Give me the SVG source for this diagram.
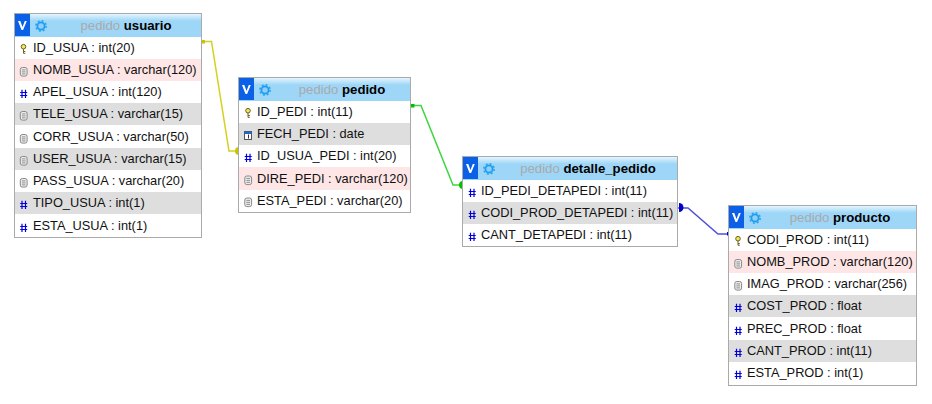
<svg xmlns="http://www.w3.org/2000/svg" xmlns:xlink="http://www.w3.org/1999/xlink" width="932" height="404" viewBox="0 0 932 404">
<style>
text{font-family:"Liberation Sans",Arial,sans-serif;font-size:12.8px;fill:#111}
.t{font-size:13.2px;text-anchor:middle}
.db{fill:#aaa}
.nm{font-weight:bold;fill:#000}
.box{fill:#fff;stroke:#aaa;stroke-width:1}
.hd{fill:url(#hg)}
.pk{fill:#ffe6e6}
.gr{fill:#dedede}
.c{fill:none;stroke-width:1.500}
</style>
<defs>
<linearGradient id="hg" x1="0" y1="0" x2="0" y2="1"><stop offset="0" stop-color="#e4f6ff"/><stop offset="0.3" stop-color="#9ed6f7"/><stop offset="1" stop-color="#9ed6f7"/></linearGradient>
<g id="hicons">
<rect x="0" y="1" width="15" height="22" fill="#0a60e6"/>
<path d="M3 8l3.500 9h1.600L11.800 8h-2l-2.300 6-2.200-6z" fill="#fff"/>
<circle cx="26" cy="13" r="5.200" fill="none" stroke="#2aa5f0" stroke-width="1.500" stroke-dasharray="2 2.080"/>
<circle cx="26" cy="13" r="3.600" fill="#8fd0fa" stroke="#1e9df0" stroke-width="1.800"/>
</g>
<g id="key"><circle cx="0" cy="-2.300" r="2.300" fill="#f2e65c" stroke="#6b6320" stroke-width="1"/><path d="M0 0v4.300M0 2.500h1.800M0 4.300h1.800" stroke="#6b6320" fill="none"/></g>
<g id="txt"><rect x="-3.200" y="-4" width="6.800" height="8.600" rx="2" fill="#eee" stroke="#888"/><path d="M-1.600 -1.600h3.600M-1.600 0.400h3.600M-1.600 2.400h3.600" stroke="#777" stroke-width="0.800"/></g>
<g id="num"><path d="M-1.500 -3.800V4.500M2 -3.800V4.500M-3.300 -1h7M-3.300 2h7" stroke="#00d" stroke-width="1.200" fill="none"/></g>
<g id="date"><rect x="-3.500" y="-3.500" width="7" height="8" fill="#fff" stroke="#555"/><rect x="-3.500" y="-3.500" width="7" height="2.500" fill="#26c"/><path d="M0.500 -0.500v4" stroke="#333"/></g>
</defs>
<rect width="932" height="404" fill="#fff"/>
<g id="connectors">
<path class="c" stroke="#d6d01e" d="M202 41.500H211.500L229 151H238"/>
<rect x="202" y="40" width="3" height="3.500" fill="#c8c400"/>
<path d="M239 147a4 4 0 0 0 0 8z" fill="#c8c400"/>
<path class="c" stroke="#3ed63e" d="M411 105.500H421L453 185H462"/>
<rect x="411" y="104" width="3.500" height="3.500" fill="#00c000"/>
<path d="M463 181a4 4 0 0 0 0 8z" fill="#00c000"/>
<path class="c" stroke="#5050e0" d="M678 208H688L718 234H728"/>
<path d="M679 203a4.500 4.500 0 0 1 0 9z" fill="#0000c8"/>
<rect x="727" y="232" width="2" height="3.500" fill="#0000c8"/>
</g>
<g id="usuario">
<rect class="box" x="14.500" y="13.500" width="187" height="224"/>
<rect class="hd" x="15" y="14" width="186" height="23"/>
<use xlink:href="#hicons" x="15" y="13"/>
<text class="t" x="126" y="30"><tspan class="db" fill="#aaa">pedido</tspan> <tspan class="nm">usuario</tspan></text>
<rect class="pk" x="15" y="59" width="186" height="22"/>
<rect class="gr" x="15" y="103" width="186" height="22"/>
<rect class="gr" x="15" y="148" width="186" height="22"/>
<rect class="gr" x="15" y="192" width="186" height="22"/>
<use xlink:href="#key" x="23.500" y="49"/><text x="33" y="52">ID_USUA : int(20)</text>
<use xlink:href="#txt" x="23.500" y="71.500"/><text x="33" y="74">NOMB_USUA : varchar(120)</text>
<use xlink:href="#num" x="23.500" y="93.500"/><text x="33" y="96">APEL_USUA : int(120)</text>
<use xlink:href="#txt" x="23.500" y="115.500"/><text x="33" y="118">TELE_USUA : varchar(15)</text>
<use xlink:href="#txt" x="23.500" y="138.500"/><text x="33" y="141">CORR_USUA : varchar(50)</text>
<use xlink:href="#txt" x="23.500" y="160.500"/><text x="33" y="163">USER_USUA : varchar(15)</text>
<use xlink:href="#txt" x="23.500" y="182.500"/><text x="33" y="185">PASS_USUA : varchar(20)</text>
<use xlink:href="#num" x="23.500" y="204.500"/><text x="33" y="207">TIPO_USUA : int(1)</text>
<use xlink:href="#num" x="23.500" y="227.500"/><text x="33" y="230">ESTA_USUA : int(1)</text>
</g>
<g id="pedido">
<rect class="box" x="238.500" y="77.500" width="172" height="135"/>
<rect class="hd" x="239" y="78" width="171" height="23"/>
<use xlink:href="#hicons" x="239" y="77"/>
<text class="t" x="342" y="94"><tspan class="db" fill="#aaa">pedido</tspan> <tspan class="nm">pedido</tspan></text>
<rect class="gr" x="239" y="123" width="171" height="22"/>
<rect class="pk" x="239" y="167" width="171" height="23"/>
<use xlink:href="#key" x="248" y="113"/><text x="257" y="116">ID_PEDI : int(11)</text>
<use xlink:href="#date" x="248" y="135"/><text x="257" y="138">FECH_PEDI : date</text>
<use xlink:href="#num" x="248" y="157.500"/><text x="257" y="160">ID_USUA_PEDI : int(20)</text>
<use xlink:href="#txt" x="248" y="180"/><text x="257" y="183">DIRE_PEDI : varchar(120)</text>
<use xlink:href="#txt" x="248" y="202"/><text x="257" y="205">ESTA_PEDI : varchar(20)</text>
</g>
<g id="detalle_pedido">
<rect class="box" x="462.500" y="156.500" width="215" height="90"/>
<rect class="hd" x="463" y="157" width="214" height="23"/>
<use xlink:href="#hicons" x="463" y="156"/>
<text class="t" x="588" y="173"><tspan class="db" fill="#aaa">pedido</tspan> <tspan class="nm">detalle_pedido</tspan></text>
<rect class="gr" x="463" y="202" width="214" height="22"/>
<use xlink:href="#num" x="472" y="192.500"/><text x="481" y="195">ID_PEDI_DETAPEDI : int(11)</text>
<use xlink:href="#num" x="472" y="214.500"/><text x="481" y="217">CODI_PROD_DETAPEDI : int(11)</text>
<use xlink:href="#num" x="472" y="236.500"/><text x="481" y="239">CANT_DETAPEDI : int(11)</text>
</g>
<g id="producto">
<rect class="box" x="728.500" y="205.500" width="188" height="180"/>
<rect class="hd" x="729" y="206" width="187" height="23"/>
<use xlink:href="#hicons" x="729" y="205"/>
<text class="t" x="840" y="222"><tspan class="db" fill="#aaa">pedido</tspan> <tspan class="nm">producto</tspan></text>
<rect class="pk" x="729" y="251" width="187" height="22"/>
<rect class="gr" x="729" y="295" width="187" height="22"/>
<rect class="gr" x="729" y="340" width="187" height="22"/>
<use xlink:href="#key" x="738" y="241"/><text x="747" y="244">CODI_PROD : int(11)</text>
<use xlink:href="#txt" x="738" y="263.500"/><text x="747" y="266">NOMB_PROD : varchar(120)</text>
<use xlink:href="#txt" x="738" y="285.500"/><text x="747" y="288">IMAG_PROD : varchar(256)</text>
<use xlink:href="#num" x="738" y="307.500"/><text x="747" y="310">COST_PROD : float</text>
<use xlink:href="#num" x="738" y="330.500"/><text x="747" y="333">PREC_PROD : float</text>
<use xlink:href="#num" x="738" y="352.500"/><text x="747" y="355">CANT_PROD : int(11)</text>
<use xlink:href="#num" x="738" y="374.500"/><text x="747" y="377">ESTA_PROD : int(1)</text>
</g>
</svg>
